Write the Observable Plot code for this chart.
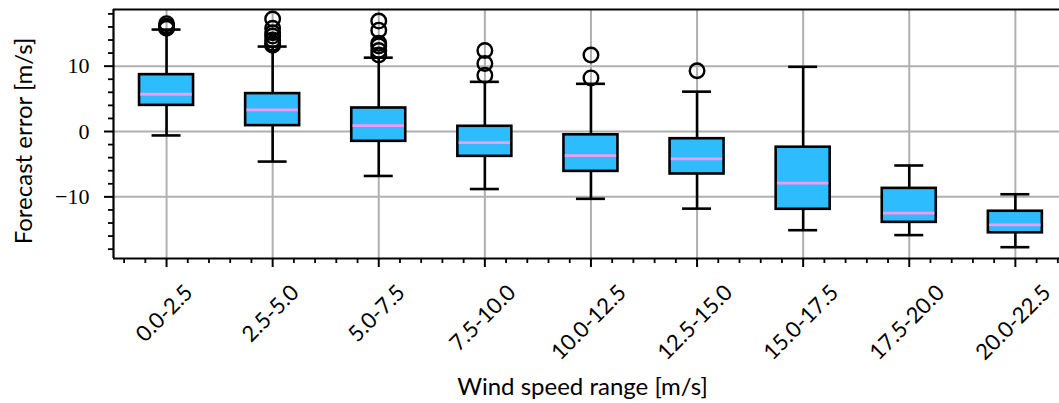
<!DOCTYPE html>
<html>
<head>
<meta charset="utf-8">
<script src="https://cdn.jsdelivr.net/npm/d3@7"></script>
<script src="https://cdn.jsdelivr.net/npm/@observablehq/plot@0.6"></script>
<style>
  html, body { margin: 0; padding: 0; background: #fff; }
  #chart { width: 1059px; height: 403px; overflow: hidden; }
</style>
</head>
<body>
<div id="chart"></div>
<script>
// ---- data ----
const categories = ["0.0-2.5", "2.5-5.0", "5.0-7.5", "7.5-10.0", "10.0-12.5", "12.5-15.0", "15.0-17.5", "17.5-20.0", "20.0-22.5"];
const whiskerLow  = [-0.6, -4.6, -6.8, -8.8, -10.3, -11.8, -15.1, -15.85, -17.7];
const q1          = [4.0, 0.9, -1.5, -3.8, -6.1, -6.5, -11.9, -13.9, -15.5];
const median      = [5.7, 3.3, 0.9, -1.7, -3.7, -4.2, -7.9, -12.5, -14.3];
const q3          = [8.7, 5.8, 3.6, 0.8, -0.5, -1.1, -2.4, -8.7, -12.2];
const whiskerHigh = [15.6, 13.0, 11.3, 7.6, 7.3, 6.1, 9.9, -5.2, -9.6];
const outliers = [
  [16.5, 16.1, 15.8],
  [17.2, 15.8, 15.1, 14.6, 14.0, 13.5, 13.2],
  [16.9, 15.5, 13.5, 13.1, 12.4, 11.7],
  [12.4, 10.4, 8.6],
  [11.7, 8.2],
  [9.3],
  [], [], []
];
const yMajorTicks = [-10, 0, 10];
const xLabel = "Wind speed range [m/s]";
const yLabel = "Forecast error [m/s]";

// ---- derived tables ----
const boxes = categories.map((c, i) => ({
  cat: c, pos: i + 1,
  lo: whiskerLow[i], q1: q1[i], med: median[i], q3: q3[i], hi: whiskerHigh[i]
}));
const fliers = outliers.flatMap((vals, i) => vals.map(v => ({pos: i + 1, value: v})));
const positions = boxes.map(d => d.pos);

const xDomain = [0.5, 9.416];
const yDomain = [-19.43, 18.67];
const xMinor = d3.range(0.6, 9.41, 0.2).filter(v => Math.abs(v - Math.round(v)) > 1e-6);
const yMinor = d3.range(-18, 19, 2).filter(v => v % 10 !== 0);

const SANS = "Lato, 'DejaVu Sans', sans-serif";
const SERIF = "'Liberation Serif', 'DejaVu Serif', serif";
const TICK_FS = 22;
const TITLE_FS = 24;
const GRID = "#b0b0b0";
const FILL = "#2dbdff";
const MED = "#f09cf0";
const LW = 2.6;

// measure label widths to place rotated labels (matplotlib: ha=center, va=top)
const ctx = document.createElement("canvas").getContext("2d");
ctx.font = `${TICK_FS}px Lato`;
const labelMarks = categories.map((c, i) => {
  const w = ctx.measureText(c).width;
  const h = TICK_FS * 0.7;
  const half = 0.7071 * (w + h) / 2;
  return Plot.text([c], {
    x: [i + 1], text: d => d, frameAnchor: "bottom",
    rotate: -45, textAnchor: "middle", lineAnchor: "middle",
    dy: 283 - 258 + half, dx: -2,
    fontSize: TICK_FS, fontFamily: SANS, fill: "#000"
  });
});

const plot = Plot.plot({
  width: 1059,
  height: 403,
  marginLeft: 113,
  marginRight: 0,
  marginTop: 9,
  marginBottom: 145,
  style: {background: "#fff", fontFamily: SANS, overflow: "visible"},
  x: {type: "linear", domain: xDomain, axis: null, label: null},
  y: {type: "linear", domain: yDomain, axis: null, label: null},
  marks: [
    Plot.gridX(positions, {stroke: GRID, strokeOpacity: 1, strokeWidth: 2}),
    Plot.gridY(yMajorTicks, {stroke: GRID, strokeOpacity: 1, strokeWidth: 2}),
    // whiskers
    Plot.ruleX(boxes, {x: "pos", y1: "lo", y2: "hi", stroke: "#000", strokeWidth: LW}),
    // caps
    Plot.ruleY(boxes, {x1: "pos", x2: "pos", y: "lo", insetLeft: -14.5, insetRight: -14.5, stroke: "#000", strokeWidth: LW}),
    Plot.ruleY(boxes, {x1: "pos", x2: "pos", y: "hi", insetLeft: -14.5, insetRight: -14.5, stroke: "#000", strokeWidth: LW}),
    // boxes
    Plot.rect(boxes, {x1: "pos", x2: "pos", y1: "q1", y2: "q3", insetLeft: -27, insetRight: -27, fill: FILL, stroke: "#000", strokeWidth: LW}),
    // medians
    Plot.ruleY(boxes, {x1: "pos", x2: "pos", y: "med", insetLeft: -25.7, insetRight: -25.7, stroke: MED, strokeWidth: 2.8}),
    // outliers
    Plot.dot(fliers, {x: "pos", y: "value", r: 7.3, stroke: "#000", strokeWidth: 2.4, fill: "none"}),
    // axes
    Plot.axisX(positions, {tickSize: 9, tickFormat: () => "", label: null, strokeWidth: 2, stroke: "#000"}),
    Plot.axisX(xMinor, {tickSize: 5, tickFormat: () => "", label: null, strokeWidth: 1.8, stroke: "#000"}),
    Plot.axisY(yMajorTicks, {tickSize: 9, tickPadding: 15, label: null, strokeWidth: 2, stroke: "#000",
      tickFormat: d => d < 0 ? "\u2212" + Math.abs(d) : String(d),
      fontFamily: SERIF, fontSize: TICK_FS, fill: "#000"}),
    Plot.axisY(yMinor, {tickSize: 5, tickFormat: () => "", label: null, strokeWidth: 1.8, stroke: "#000"}),
    // spines
    Plot.ruleX([xDomain[0]], {stroke: "#000", strokeWidth: 2.2}),
    Plot.ruleY([yDomain[0]], {stroke: "#000", strokeWidth: 2.2}),
    Plot.ruleY([yDomain[1]], {stroke: "#000", strokeWidth: 2.2}),
    // labels
    ...labelMarks,
    Plot.text([xLabel], {frameAnchor: "bottom", text: d => d, dx: -4, dy: 129, textAnchor: "middle", lineAnchor: "middle",
      fontSize: TITLE_FS, fontFamily: SANS, fill: "#000"}),
    Plot.text([yLabel], {frameAnchor: "left", text: d => d, rotate: -90, dx: -89, dy: 7, textAnchor: "middle", lineAnchor: "middle",
      fontSize: TITLE_FS, fontFamily: SANS, fill: "#000"})
  ]
});
document.getElementById("chart").appendChild(plot);
</script>
</body>
</html>
